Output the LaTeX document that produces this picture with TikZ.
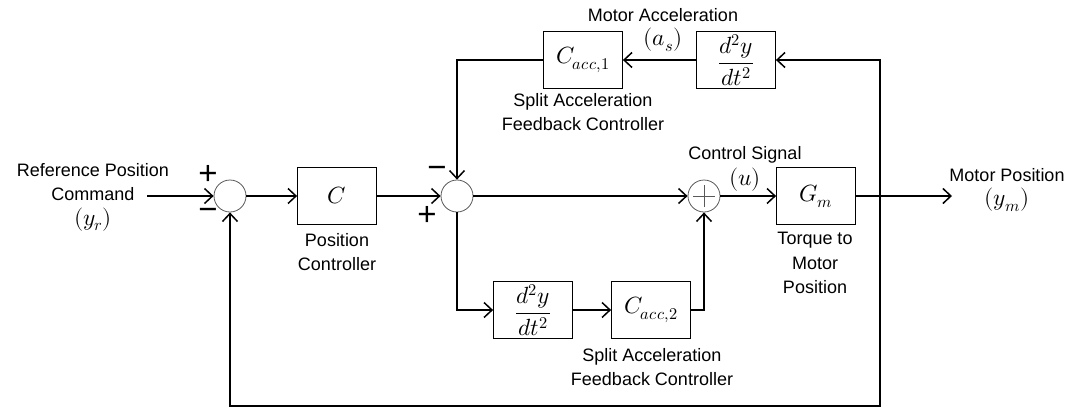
\documentclass[tikz,border=0pt]{standalone}
\usepackage{amsmath}
\usepackage{fontspec}
\usepackage{unicode-math}
\setmainfont{Liberation Sans}
\setmathfont{Latin Modern Math}[Scale=1.3]
\usetikzlibrary{arrows.meta}

\begin{document}
\begin{tikzpicture}[x=1pt,y=-1pt,
        font=\fontsize{18}{24.5}\selectfont,
        block/.style={draw,line width=0.8pt,minimum width=79pt,minimum height=57pt,inner sep=0pt},
        sumnode/.style={circle,draw=black!65,line width=0.8pt,minimum size=32pt,inner sep=0pt},
        sig/.style={line width=1.6pt,-{Straight Barb[length=8pt,width=15pt,line width=1.5pt]}},
        sign/.style={font=\fontsize{33}{33}\selectfont,inner sep=0pt}]
        \useasboundingbox (0,0) rectangle (1075,408);

        \coordinate (In)   at (147,196);
        \coordinate (Out)  at (952,196);
        \coordinate (TapR) at (880,196);
        \coordinate (TapB) at (880,406);

        \node[sumnode] (S1) at (230,196) {};
        \node[block]   (C)  at (337,196) {$C$};
        \node[sumnode] (S2) at (457,196) {};
        \node[sumnode,path picture={
            \draw[line width=0.8pt] ([xshift=-11pt]S3.center) -- ([xshift=11pt]S3.center);
            \draw[line width=0.8pt] ([yshift=-11pt]S3.center) -- ([yshift=11pt]S3.center);}]
                       (S3) at (704,196) {};
        \node[block]   (Gm) at (816,196) {$G_m$};

        \node[block] (Cacc1) at (583,60)  {$C_{acc,1}$};
        \node[block] (Ddy1)  at (736,60)  {$\dfrac{d^2y}{dt^2}$};
        \node[block] (Ddy2)  at (533,310) {$\dfrac{d^2y}{dt^2}$};
        \node[block] (Cacc2) at (651,310) {$C_{acc,2}$};

        % signs at the summing junctions
        \node[sign] (P1) at (208,175) {+};
        \node[sign] (M1) at (208,214) {−};
        \node[sign] (M2) at (437,172) {−};
        \node[sign] (P2) at (427,216) {+};

        % texts
        \node[align=center] (RefTxt)   at (93,197)  {Reference Position\\Command\\$(y_r)$};
        \node[align=center] (PosTxt)   at (337,252) {Position\\Controller};
        \node               (AccTxt)   at (663,15)  {Motor Acceleration};
        \node               (AsTxt)    at (663,40)  {$(a_s)$};
        \node[align=center] (SplitTxt) at (583,112) {Split Acceleration\\Feedback Controller};
        \node               (CtrlTxt)  at (745,155) {Control Signal};
        \node               (UTxt)     at (745,180) {$(u)$};
        \node[align=center] (TrqTxt)   at (815,263) {Torque to\\Motor\\Position};
        \node               (MotTxt)   at (1007,175) {Motor Position};
        \node               (YmTxt)    at (1007,200) {$(y_m)$};
        \node[align=center] (SplitTxtB) at (652,367) {Split Acceleration\\Feedback Controller};

        % forward path
        \draw[sig] (In) -- (S1);
        \draw[sig] (S1) -- (C);
        \draw[sig] (C)  -- (S2);
        \draw[sig] (S2) -- (S3);
        \draw[sig] (S3) -- (Gm);
        \draw[sig] (Gm) -- (Out);

        % acceleration loops
        \draw[sig] (TapR) |- (Ddy1);
        \draw[sig] (Ddy1) -- (Cacc1);
        \draw[sig] (Cacc1) -| (S2);
        \draw[sig] (S2) |- (Ddy2);
        \draw[sig] (Ddy2) -- (Cacc2);
        \draw[sig] (Cacc2) -| (S3);

        % position feedback
        \draw[sig] (TapR) -- (TapB) -| (S1);
    \end{tikzpicture}
\end{document}
